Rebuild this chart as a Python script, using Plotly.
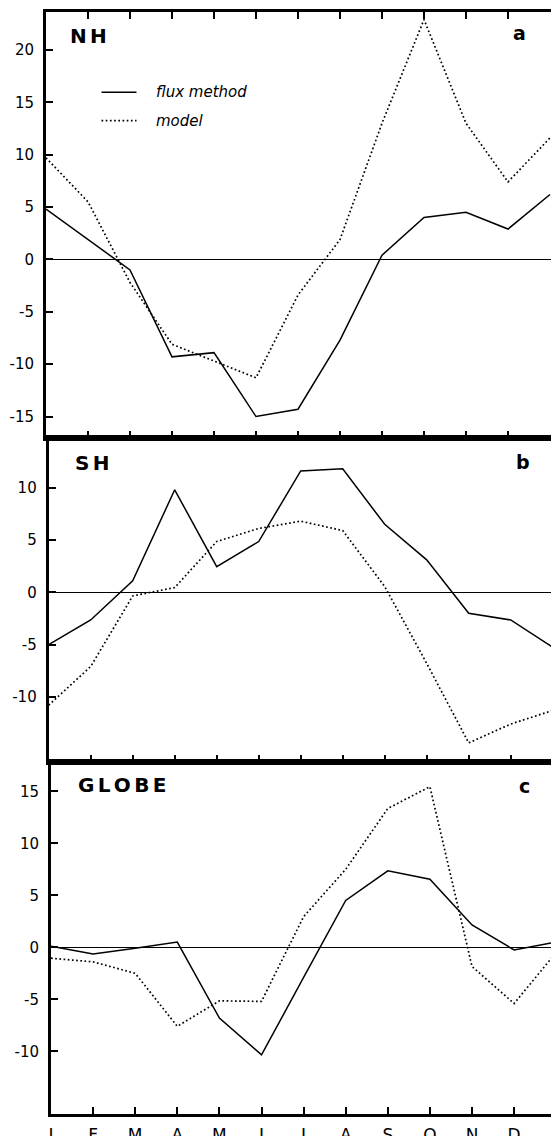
import plotly.graph_objects as go

# Page size in pixels
W, H = 551, 1136

# Month axis: J..D plus the following January
month_idx = list(range(13))
month_labels = ["J", "F", "M", "A", "M", "J", "J", "A", "S", "O", "N", "D"]

# Northern Hemisphere
nh_flux = [4.8, 1.9, -1.0, -9.3, -8.9, -15.0, -14.3, -7.7, 0.4, 4.0, 4.5, 2.9, 6.2]
nh_model = [9.7, 5.5, -2.2, -8.1, -9.7, -11.3, -3.4, 1.9, 13.0, 22.9, 13.0, 7.4, 11.6]

# Southern Hemisphere
sh_flux = [-5.0, -2.65, 1.1, 9.8, 2.45, 4.85, 11.6, 11.8, 6.5, 3.1, -2.0, -2.65, -5.25]
sh_model = [-10.8, -7.1, -0.35, 0.45, 4.85, 6.1, 6.8, 5.9, 0.55, -6.8, -14.4, -12.6, -11.3]

# Globe
gl_flux = [0.1, -0.65, -0.1, 0.5, -6.8, -10.35, -2.9, 4.5, 7.35, 6.55, 2.15, -0.25, 0.5]
gl_model = [-1.05, -1.4, -2.5, -7.6, -5.15, -5.2, 2.95, 7.5, 13.35, 15.45, -1.85, -5.4, -0.5]

panel_names = ["N\u2006H", "S\u2006H", "G\u2006L\u2006O\u2006B\u2006E"]
panel_letters = ["a", "b", "c"]

y_ticks = [
    [-15, -10, -5, 0, 5, 10, 15, 20],
    [-10, -5, 0, 5, 10],
    [-10, -5, 0, 5, 10, 15],
]
y_ranges = [[-17.0, 23.65], [-16.2, 14.8], [-16.06, 17.85]]

FONT = "DejaVu Sans, Liberation Sans, Arial, sans-serif"
SOLID = dict(color="black", width=1.5)
DOTTED = dict(color="black", width=1.7, dash="1.7px,2.5px")


def px_x(x):
    return x / W


def px_y(y):
    return 1 - y / H


# pixel geometry of each panel: (left, right, top, bottom)
panels = [
    (46.0, 551.0, 11.7, 437.5),
    (48.7, 551.0, 437.5, 761.7),
    (51.0, 551.0, 761.7, 1114.3),
]
month_px = [42.0, 42.0, 42.1]

fig = go.Figure()

series = [(nh_flux, nh_model), (sh_flux, sh_model), (gl_flux, gl_model)]
for k, (flux, model) in enumerate(series):
    xa = "x" if k == 0 else f"x{k + 1}"
    ya = "y" if k == 0 else f"y{k + 1}"
    fig.add_trace(go.Scatter(x=month_idx, y=model, mode="lines", line=DOTTED,
                             xaxis=xa, yaxis=ya, showlegend=False, hoverinfo="skip"))
    fig.add_trace(go.Scatter(x=month_idx, y=flux, mode="lines", line=SOLID,
                             xaxis=xa, yaxis=ya, showlegend=False, hoverinfo="skip"))

layout = dict(
    width=W, height=H,
    margin=dict(l=0, r=0, t=0, b=0, autoexpand=False),
    paper_bgcolor="white", plot_bgcolor="white",
    font=dict(family=FONT, size=15, color="black"),
    showlegend=False,
)

for k, (left, right, top, bottom) in enumerate(panels):
    sfx = "" if k == 0 else str(k + 1)
    x_span = (right - left) / month_px[k]
    layout["xaxis" + sfx] = dict(
        domain=[px_x(left), px_x(right)],
        range=[0, x_span],
        anchor="y" + sfx,
        automargin=False,
        showline=True, linecolor="black", linewidth=3,
        ticks="inside", ticklen=7, tickwidth=1.5, tickcolor="black",
        tickvals=list(range(12)),
        ticktext=month_labels,
        showticklabels=(k == 2),
        tickfont=dict(size=17, family=FONT),
        ticklabelstandoff=3,
        mirror="ticks" if k == 0 else True,
        showgrid=False, zeroline=False, fixedrange=True,
    )
    layout["yaxis" + sfx] = dict(
        domain=[px_y(bottom), px_y(top)],
        range=y_ranges[k],
        anchor="x" + sfx,
        automargin=False,
        showline=True, linecolor="black", linewidth=3,
        ticks="inside", ticklen=7, tickwidth=1.5, tickcolor="black",
        tickvals=y_ticks[k],
        ticktext=[str(v) for v in y_ticks[k]],
        tickfont=dict(size=15, family=FONT),
        ticklabelstandoff=6,
        showgrid=False,
        zeroline=True, zerolinecolor="black", zerolinewidth=1.3,
        fixedrange=True,
    )

fig.update_layout(**layout)

# panel titles and letters
name_pos = [(67.5, 35.7), (72.5, 462.7), (75.5, 785.0)]
letter_pos = [(519.0, 33.0), (522.5, 462.0), (524.8, 786.0)]
for k in range(3):
    fig.add_annotation(x=px_x(name_pos[k][0]), y=px_y(name_pos[k][1]),
                       xref="paper", yref="paper", xanchor="left", yanchor="middle",
                       text=f"<b>{panel_names[k]}</b>", showarrow=False,
                       font=dict(family=FONT, size=20, color="black"))
    fig.add_annotation(x=px_x(letter_pos[k][0]), y=px_y(letter_pos[k][1]),
                       xref="paper", yref="paper", xanchor="center", yanchor="middle",
                       text=f"<b>{panel_letters[k]}</b>", showarrow=False,
                       font=dict(family=FONT, size=19, color="black"))

# legend keys in panel a
legend_items = [("flux method", SOLID, 92.3), ("model", DOTTED, 120.7)]
for label, style, ypix in legend_items:
    fig.add_shape(type="line", xref="paper", yref="paper",
                  x0=px_x(101.5), x1=px_x(136.5), y0=px_y(ypix), y1=px_y(ypix),
                  line=style)
    fig.add_annotation(x=px_x(154.0), y=px_y(ypix), xref="paper", yref="paper",
                       xanchor="left", yanchor="middle", showarrow=False,
                       text=f"<i>{label}</i>",
                       font=dict(family=FONT, size=15, color="black"))

fig.write_html("out.html")
